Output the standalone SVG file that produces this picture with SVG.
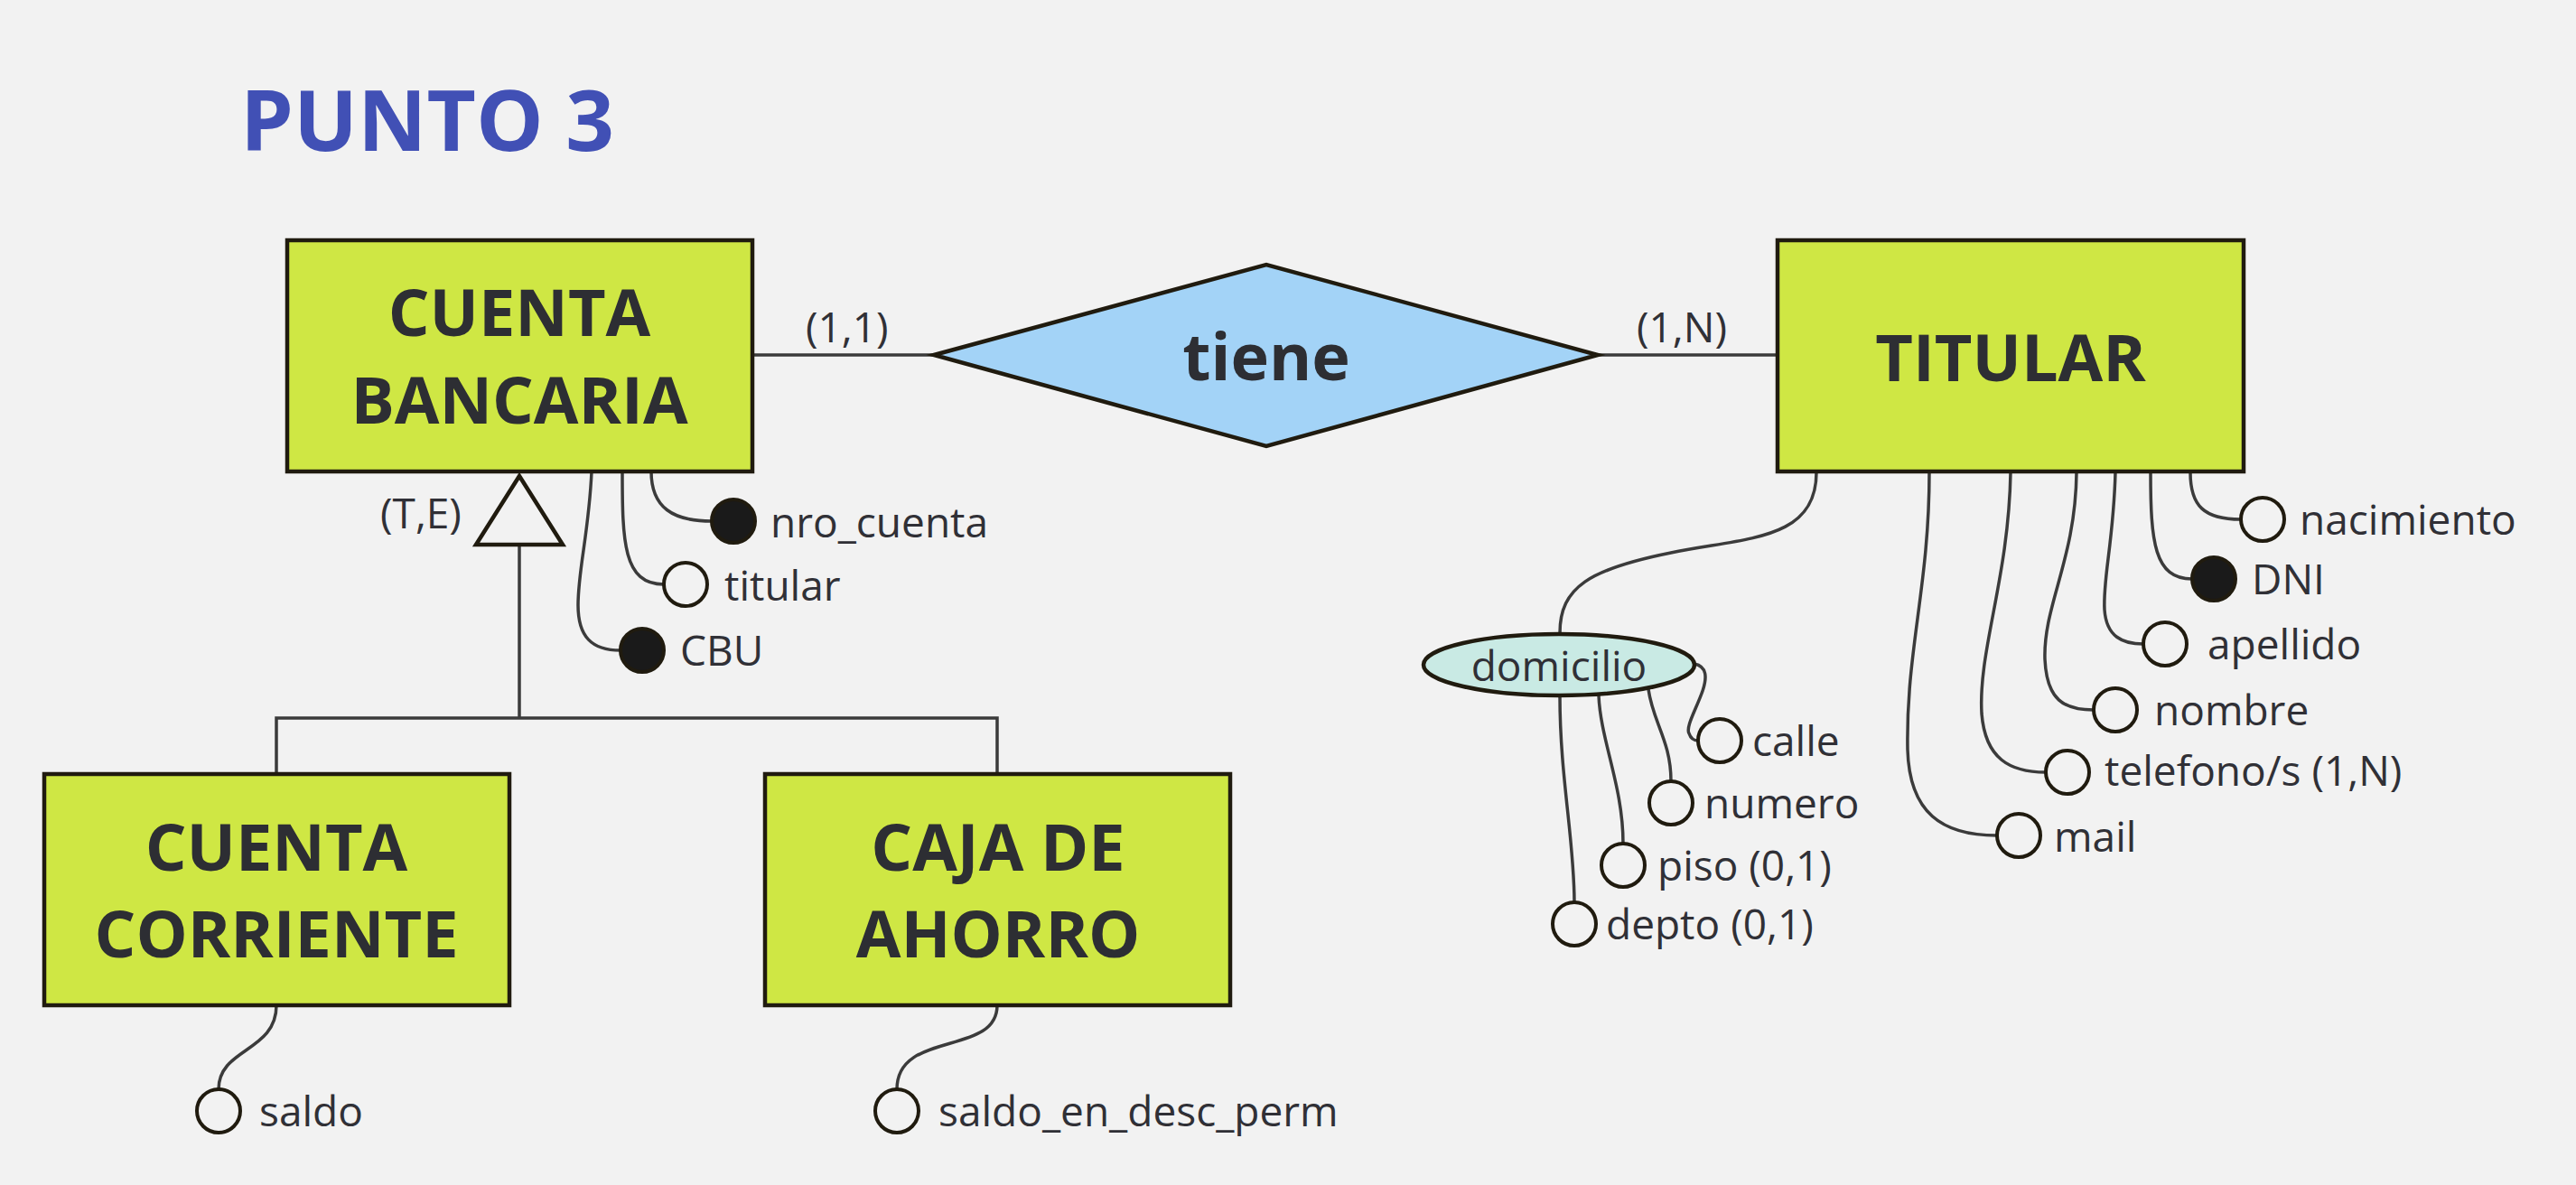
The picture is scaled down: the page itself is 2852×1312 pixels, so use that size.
<svg xmlns="http://www.w3.org/2000/svg" width="2852" height="1312" viewBox="0 0 2852 1312">
<style>
.bg{fill:#f2f2f2}
.ent{fill:#cfe744;stroke:#201b0f;stroke-width:4.5}
.rel{fill:#a3d3f7;stroke:#201b0f;stroke-width:4.5}
.comp{fill:#c9eae4;stroke:#201b0f;stroke-width:4.5}
.isa{fill:#f2f2f2;stroke:#201b0f;stroke-width:4.5}
.ln{fill:none;stroke:#3b3b3b;stroke-width:3.5}
.op{fill:#f2f2f2;stroke:#201b0f;stroke-width:4}
.key{fill:#1a1a1a;stroke:#201b0f;stroke-width:4}
.big{font-family:"Open Sans","Noto Sans",sans-serif;font-weight:700;font-size:72px;fill:#2d2e33;text-anchor:middle}
.lbl{font-family:"Open Sans","Noto Sans",sans-serif;font-size:46px;fill:#303036}
.title{font-family:"Open Sans","Noto Sans",sans-serif;font-weight:700;font-size:94px;fill:#4150b5}
</style>
<rect class="bg" x="0" y="0" width="2852" height="1312"/>
<text class="title" x="266" y="167">PUNTO 3</text>

<g id="connectors">
  <line class="ln" x1="833" y1="393" x2="1034" y2="393"/>
  <line class="ln" x1="1769" y1="393" x2="1968" y2="393"/>
  <line class="ln" x1="575" y1="603" x2="575" y2="795"/>
  <polyline class="ln" points="306,857 306,795 1104,795 1104,857"/>
  <path class="ln" d="M721,522 C721,562 745,577 788,577"/>
  <path class="ln" d="M689,522 C689,600 690,647 735,647"/>
  <path class="ln" d="M655,522 C652,590 640,630 640,670 C640,705 655,720 687,720"/>
  <path class="ln" d="M306,1113 C306,1165 242,1160 242,1206"/>
  <path class="ln" d="M1104,1113 C1104,1170 993,1140 993,1206"/>
  <path class="ln" d="M2011,523 C2011,600 1930,595 1850,612 C1760,630 1727,650 1727,701"/>
  <path class="ln" d="M2136,523 C2136,650 2110,720 2112,830 C2114,900 2150,925 2211,925"/>
  <path class="ln" d="M2226,523 C2224,640 2190,720 2194,790 C2198,840 2225,855 2265,855"/>
  <path class="ln" d="M2299,523 C2298,620 2262,670 2264,730 C2266,775 2285,786 2318,786"/>
  <path class="ln" d="M2342,523 C2340,600 2328,640 2330,675 C2332,705 2350,713 2373,713"/>
  <path class="ln" d="M2381,523 C2381,600 2385,641 2427,641"/>
  <path class="ln" d="M2425,523 C2425,560 2440,575 2481,575"/>
  <path class="ln" d="M1876,735 C1890,738 1890,750 1885,765 C1878,785 1866,805 1870,812 C1872,818 1876,820 1880,820"/>
  <path class="ln" d="M1825,763 C1830,800 1850,820 1850,865"/>
  <path class="ln" d="M1770,770 C1772,820 1797,870 1797,934"/>
  <path class="ln" d="M1727,771 C1727,860 1743,930 1743,999"/>
</g>

<g id="cuenta-bancaria">
  <rect class="ent" x="318" y="266" width="515" height="256"/>
  <text class="big" x="575" y="372">CUENTA</text>
  <text class="big" x="575" y="469">BANCARIA</text>
</g>
<g id="tiene">
  <polygon class="rel" points="1034,393 1402,293 1769,393 1402,494"/>
  <text class="big" x="1402" y="421">tiene</text>
</g>
<g id="titular">
  <rect class="ent" x="1968" y="266" width="516" height="256"/>
  <text class="big" x="2226" y="422">TITULAR</text>
</g>
<g id="card-labels">
  <text class="lbl" x="892" y="379">(1,1)</text>
  <text class="lbl" x="1812" y="379">(1,N)</text>
</g>
<g id="isa">
  <polygon class="isa" points="575,527 527,603 623,603"/>
  <text class="lbl" x="421" y="585">(T,E)</text>
</g>
<g id="cuenta-corriente">
  <rect class="ent" x="49" y="857" width="515" height="256"/>
  <text class="big" x="306" y="964">CUENTA</text>
  <text class="big" x="306" y="1060">CORRIENTE</text>
</g>
<g id="caja-de-ahorro">
  <rect class="ent" x="847" y="857" width="515" height="256"/>
  <text class="big" x="1105" y="964">CAJA DE</text>
  <text class="big" x="1105" y="1060">AHORRO</text>
</g>

<g id="attr-nro_cuenta"><circle class="key" cx="812" cy="577" r="24"/><text class="lbl" x="853" y="595">nro_cuenta</text></g>
<g id="attr-titular"><circle class="op" cx="759" cy="647" r="24"/><text class="lbl" x="802" y="665">titular</text></g>
<g id="attr-cbu"><circle class="key" cx="711" cy="720" r="24"/><text class="lbl" x="753" y="737">CBU</text></g>
<g id="attr-saldo"><circle class="op" cx="242" cy="1230" r="24"/><text class="lbl" x="287" y="1247">saldo</text></g>
<g id="attr-saldo_en_desc_perm"><circle class="op" cx="993" cy="1230" r="24"/><text class="lbl" x="1039" y="1247">saldo_en_desc_perm</text></g>

<g id="attr-domicilio">
  <ellipse class="comp" cx="1726" cy="736" rx="150" ry="34"/>
  <text class="lbl" x="1726" y="754" text-anchor="middle">domicilio</text>
</g>
<g id="attr-calle"><circle class="op" cx="1904" cy="820" r="24"/><text class="lbl" x="1940" y="837">calle</text></g>
<g id="attr-numero"><circle class="op" cx="1850" cy="889" r="24"/><text class="lbl" x="1887" y="906">numero</text></g>
<g id="attr-piso"><circle class="op" cx="1797" cy="958" r="24"/><text class="lbl" x="1835" y="975">piso (0,1)</text></g>
<g id="attr-depto"><circle class="op" cx="1743" cy="1023" r="24"/><text class="lbl" x="1778" y="1040">depto (0,1)</text></g>

<g id="attr-nacimiento"><circle class="op" cx="2505" cy="575" r="24"/><text class="lbl" x="2546" y="592">nacimiento</text></g>
<g id="attr-dni"><circle class="key" cx="2451" cy="641" r="24"/><text class="lbl" x="2493" y="658">DNI</text></g>
<g id="attr-apellido"><circle class="op" cx="2397" cy="713" r="24"/><text class="lbl" x="2444" y="730">apellido</text></g>
<g id="attr-nombre"><circle class="op" cx="2342" cy="786" r="24"/><text class="lbl" x="2385" y="803">nombre</text></g>
<g id="attr-telefono"><circle class="op" cx="2289" cy="855" r="24"/><text class="lbl" x="2330" y="870">telefono/s (1,N)</text></g>
<g id="attr-mail"><circle class="op" cx="2235" cy="925" r="24"/><text class="lbl" x="2274" y="943">mail</text></g>
</svg>
